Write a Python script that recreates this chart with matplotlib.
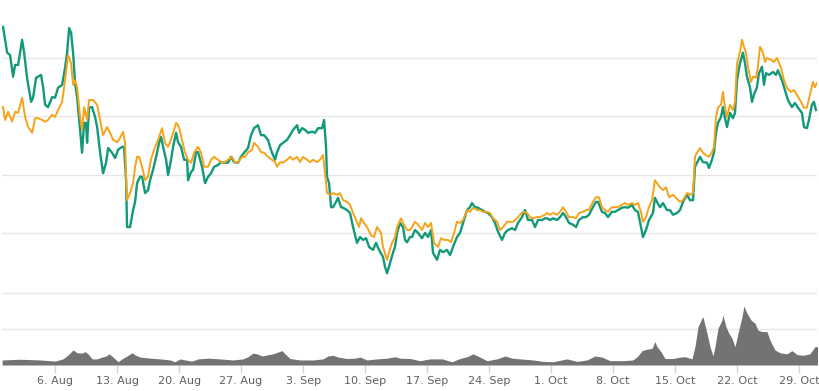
import pandas as pd
import matplotlib
matplotlib.use("Agg")
import matplotlib.pyplot as plt
import matplotlib.dates as mdates

START = pd.Timestamp("2018-07-31")

# green series: days since START, price level
green_days = [0.12, 0.58, 0.91, 1.25, 1.48, 1.82, 2.27, 2.50, 2.83, 3.29, 3.51, 3.85, 4.41, 4.64, 4.87, 5.20,
              5.66, 5.99, 6.33, 6.79, 7.12, 7.35, 7.58, 7.80, 8.03, 8.25, 8.48, 8.82, 9.04, 9.27, 9.49, 9.61,
              9.83, 10.17, 10.51, 10.74, 11.08, 11.41, 11.75, 11.98, 12.43, 12.77, 13.11, 13.56, 13.78, 14.01,
              14.12, 14.46, 14.80, 15.03, 15.25, 15.59, 15.82, 16.16, 16.49, 16.72, 17.06, 17.51, 17.74, 17.96,
              18.19, 18.53, 18.75, 19.09, 19.32, 19.66, 19.88, 20.22, 20.56, 20.90, 21.01, 21.35, 21.58, 21.91,
              22.14, 22.59, 22.93, 23.27, 23.61, 23.95, 24.40, 24.74, 25.07, 25.53, 25.86, 26.20, 26.66, 26.99,
              27.33, 27.78, 28.12, 28.46, 28.91, 29.25, 29.59, 30.04, 30.27, 30.49, 30.83, 31.06, 31.40, 31.74,
              32.19, 32.53, 32.86, 33.32, 33.54, 33.88, 34.22, 34.56, 35.01, 35.35, 35.69, 36.14, 36.37, 36.59,
              36.70, 36.93, 37.16, 37.38, 37.72, 37.95, 38.28, 38.51, 38.96, 39.30, 39.64, 39.87, 40.09, 40.43,
              40.77, 41.11, 41.45, 41.90, 42.23, 42.57, 43.02, 43.25, 43.48, 43.82, 44.15, 44.38, 44.61, 44.94,
              45.28, 45.51, 45.74, 46.07, 46.30, 46.64, 46.98, 47.43, 47.77, 48.11, 48.45, 48.67, 49.12, 49.46,
              49.80, 50.25, 50.59, 50.93, 51.38, 51.72, 52.06, 52.51, 52.85, 53.07, 53.41, 53.75, 54.20, 54.54,
              54.88, 55.33, 55.67, 56.01, 56.46, 56.80, 57.14, 57.59, 57.93, 58.27, 58.72, 59.06, 59.40, 59.85,
              60.19, 60.53, 60.98, 61.32, 61.54, 61.88, 62.22, 62.67, 63.01, 63.35, 63.69, 64.02, 64.48, 64.82,
              65.15, 65.61, 65.95, 66.28, 66.73, 67.07, 67.30, 67.75, 68.09, 68.43, 68.87, 69.21, 69.55, 70.00,
              70.34, 70.68, 71.14, 71.47, 71.81, 72.15, 72.38, 72.72, 73.06, 73.51, 73.73, 73.96, 74.30, 74.64,
              75.09, 75.43, 75.77, 76.22, 76.56, 76.90, 77.35, 77.69, 78.03, 78.25, 78.48, 78.82, 79.15, 79.61,
              79.83, 80.17, 80.40, 80.62, 80.85, 81.19, 81.41, 81.64, 81.87, 82.20, 82.54, 82.77, 83.00, 83.33,
              83.67, 83.90, 84.12, 84.46, 84.69, 84.91, 85.25, 85.48, 85.82, 86.04, 86.27, 86.61, 87.06, 87.40,
              87.62, 88.07, 88.41, 88.75, 89.20, 89.54, 89.88, 90.33, 90.56, 90.89, 91.12, 91.46, 91.68, 91.91]
green_price = [4.53, 4.09, 4.05, 3.68, 3.88, 3.88, 4.31, 4.09, 3.66, 3.25, 3.32, 3.66, 3.71, 3.50, 3.20, 3.16,
               3.33, 3.32, 3.49, 3.54, 3.83, 4.09, 4.51, 4.43, 4.09, 3.57, 3.33, 2.77, 2.38, 2.89, 2.89, 2.55,
               3.15, 3.16, 2.99, 2.82, 2.38, 2.03, 2.21, 2.46, 2.38, 2.29, 2.43, 2.48, 2.48, 1.91,
               1.11, 1.11, 1.40, 1.54, 1.86, 1.97, 1.97, 1.69, 1.74, 1.91, 2.09, 2.38, 2.55, 2.65,
               2.48, 2.26, 2.00, 2.26, 2.48, 2.72, 2.56, 2.48, 2.26, 2.26, 1.91, 2.05, 2.09, 2.39,
               2.39, 2.14, 1.86, 1.97, 2.03, 2.14, 2.17, 2.22, 2.21, 2.21, 2.31, 2.22, 2.21, 2.31,
               2.38, 2.46, 2.68, 2.80, 2.85, 2.68, 2.68, 2.60, 2.48, 2.38, 2.26, 2.39, 2.51, 2.55,
               2.60, 2.68, 2.77, 2.85, 2.72, 2.80, 2.77, 2.72, 2.74, 2.72, 2.80, 2.80, 2.94, 2.48,
               1.97, 1.86, 1.45, 1.45, 1.54, 1.61, 1.45, 1.44, 1.40, 1.35, 1.11, 0.97, 0.84, 0.94,
               0.89, 0.92, 0.77, 0.72, 0.84, 0.72, 0.60, 0.43, 0.32, 0.50, 0.67, 0.77, 1.01, 1.18,
               1.11, 0.89, 0.85, 0.94, 0.94, 1.06, 1.01, 0.92, 1.01, 0.94, 1.06, 0.67, 0.55, 0.72,
               0.68, 0.72, 0.63, 0.77, 0.94, 1.01, 1.18, 1.40, 1.45, 1.52, 1.45, 1.44, 1.40, 1.37,
               1.35, 1.28, 1.18, 1.03, 0.89, 1.01, 1.06, 1.09, 1.06, 1.18, 1.28, 1.40, 1.23, 1.23,
               1.11, 1.23, 1.23, 1.26, 1.26, 1.23, 1.26, 1.23, 1.28, 1.35, 1.28, 1.18, 1.15, 1.11,
               1.23, 1.28, 1.28, 1.32, 1.45, 1.54, 1.54, 1.37, 1.35, 1.28, 1.37, 1.37, 1.40, 1.44,
               1.45, 1.44, 1.49, 1.40, 1.37, 1.11, 0.94, 1.06, 1.23, 1.35, 1.61, 1.54, 1.45, 1.52,
               1.40, 1.40, 1.32, 1.35, 1.40, 1.54, 1.66, 1.57, 1.57, 2.14, 2.21, 2.31, 2.22, 2.21,
               2.12, 2.26, 2.39, 2.72, 2.89, 2.99, 3.16, 2.97, 2.82, 3.06, 2.97, 3.06, 3.62, 3.91,
               4.09, 3.91, 3.68, 3.50, 3.25, 3.37, 3.50, 3.74, 3.85, 3.54, 3.74, 3.71, 3.76, 3.71,
               3.79, 3.62, 3.45, 3.28, 3.16, 3.23, 3.15, 3.06, 2.82, 2.80, 2.94, 3.20, 3.25, 3.11]

# orange series
orange_days = [0.12, 0.35, 0.69, 1.14, 1.48, 1.82, 2.27, 2.61, 2.95, 3.40, 3.74, 4.08, 4.53, 4.87, 5.20, 5.66,
               5.99, 6.33, 6.79, 7.12, 7.46, 7.80, 8.03, 8.25, 8.48, 8.82, 9.04, 9.27, 9.61, 9.83, 10.28, 10.74,
               11.08, 11.41, 11.86, 12.20, 12.55, 13.00, 13.33, 13.67, 13.90, 14.01, 14.12, 14.46, 14.80, 15.03,
               15.25, 15.48, 15.82, 16.16, 16.49, 16.82, 17.17, 17.62, 18.07, 18.40, 18.75, 19.19, 19.66, 19.98,
               20.33, 20.67, 21.01, 21.35, 21.69, 22.14, 22.48, 22.82, 23.27, 23.61, 23.95, 24.40, 24.74, 25.07,
               25.53, 25.98, 26.32, 26.66, 27.11, 27.45, 27.78, 28.24, 28.46, 28.91, 29.25, 29.59, 30.04, 30.49,
               30.83, 31.06, 31.40, 31.74, 32.19, 32.53, 32.86, 33.32, 33.66, 33.99, 34.45, 34.78, 35.12, 35.58,
               35.92, 36.25, 36.48, 36.70, 37.04, 37.38, 37.83, 38.17, 38.51, 38.96, 39.30, 39.64, 39.98, 40.32,
               40.54, 40.88, 41.22, 41.67, 42.01, 42.35, 42.80, 43.02, 43.48, 43.70, 44.04, 44.38, 44.61, 45.06,
               45.28, 45.74, 46.07, 46.30, 46.64, 46.98, 47.43, 47.77, 48.11, 48.45, 48.79, 49.24, 49.58, 49.92,
               50.37, 50.71, 51.05, 51.38, 51.72, 52.06, 52.51, 52.85, 53.19, 53.64, 53.98, 54.32, 54.77, 55.11,
               55.45, 55.90, 56.24, 56.58, 57.03, 57.37, 57.71, 58.16, 58.50, 58.84, 59.29, 59.62, 59.96, 60.42,
               60.75, 61.32, 61.54, 61.88, 62.22, 62.67, 63.01, 63.35, 63.69, 64.02, 64.48, 64.82, 65.15, 65.61,
               65.95, 66.28, 66.73, 67.07, 67.41, 67.75, 68.09, 68.43, 68.87, 69.21, 69.55, 70.00, 70.34, 70.68,
               71.14, 71.47, 71.81, 72.15, 72.38, 72.72, 73.06, 73.40, 73.73, 73.96, 74.30, 74.64, 74.98, 75.32,
               75.77, 76.11, 76.56, 76.90, 77.35, 77.69, 78.03, 78.25, 78.48, 78.82, 79.15, 79.49, 79.83, 80.17,
               80.40, 80.62, 80.85, 81.19, 81.41, 81.64, 81.87, 82.20, 82.54, 82.77, 83.00, 83.33, 83.56, 83.78,
               84.01, 84.24, 84.58, 84.80, 85.14, 85.36, 85.59, 85.93, 86.16, 86.38, 86.83, 87.17, 87.51, 87.96,
               88.30, 88.64, 89.09, 89.43, 89.77, 90.22, 90.56, 90.89, 91.23, 91.57, 91.80, 92.02]
orange_price = [3.16, 2.94, 3.08, 2.91, 3.08, 3.06, 3.32, 2.99, 2.82, 2.72, 2.97, 2.97, 2.94, 2.91, 2.94, 3.03,
                2.99, 3.11, 3.25, 3.62, 4.05, 3.91, 3.54, 3.62, 3.50, 2.99, 2.77, 3.16, 2.94, 3.28, 3.28, 3.20,
                2.94, 2.68, 2.82, 2.72, 2.60, 2.56, 2.63, 2.74, 2.55, 1.97, 1.57, 1.69, 1.86, 2.14,
                2.31, 2.31, 2.14, 1.91, 1.97, 2.26, 2.43, 2.60, 2.80, 2.55, 2.48, 2.65, 2.89, 2.82,
                2.60, 2.38, 2.26, 2.21, 2.38, 2.48, 2.38, 2.14, 2.14, 2.26, 2.31, 2.26, 2.22, 2.21,
                2.26, 2.31, 2.21, 2.22, 2.31, 2.31, 2.39, 2.43, 2.55, 2.48, 2.39, 2.38, 2.31, 2.26,
                2.22, 2.14, 2.22, 2.21, 2.26, 2.31, 2.26, 2.31, 2.22, 2.31, 2.26, 2.22, 2.26, 2.22,
                2.26, 2.34, 2.03, 1.69, 1.66, 1.69, 1.66, 1.69, 1.57, 1.54, 1.49, 1.35, 1.23, 1.11,
                1.26, 1.18, 1.11, 0.97, 0.94, 1.11, 1.01, 0.77, 0.55, 0.67, 0.84, 0.94, 1.11, 1.26,
                1.18, 1.06, 1.06, 1.11, 1.20, 1.15, 1.06, 1.18, 1.11, 1.18, 0.84, 0.77, 0.92, 0.89,
                0.89, 0.85, 1.01, 1.20, 1.18, 1.23, 1.40, 1.37, 1.44, 1.40, 1.40, 1.37, 1.37, 1.35,
                1.26, 1.20, 1.06, 1.11, 1.20, 1.20, 1.20, 1.26, 1.32, 1.37, 1.35, 1.28, 1.26, 1.28,
                1.28, 1.32, 1.35, 1.32, 1.35, 1.32, 1.37, 1.45, 1.37, 1.28, 1.28, 1.26, 1.35, 1.37,
                1.40, 1.40, 1.54, 1.62, 1.62, 1.45, 1.40, 1.37, 1.45, 1.45, 1.45, 1.49, 1.52, 1.49,
                1.52, 1.49, 1.52, 1.37, 1.20, 1.28, 1.45, 1.57, 1.91, 1.86, 1.79, 1.74, 1.79, 1.62,
                1.66, 1.61, 1.54, 1.57, 1.69, 1.66, 1.69, 2.31, 2.38, 2.46, 2.38, 2.34, 2.31, 2.39,
                2.48, 2.99, 3.15, 3.20, 3.42, 3.16, 2.99, 3.20, 3.11, 3.25, 3.91, 4.10, 4.31, 4.19,
                4.09, 3.85, 3.59, 3.68, 3.66, 3.85, 4.19, 4.09, 3.93, 4.00, 3.97, 3.93, 4.00, 3.83,
                3.62, 3.49, 3.42, 3.45, 3.37, 3.25, 3.15, 3.15, 3.37, 3.59, 3.50, 3.57]

# volume
vol_days = [0.01, 2.04, 4.30, 6.00, 6.90, 7.46, 8.03, 8.48, 9.04, 9.38, 9.72, 10.17, 10.74, 11.30, 11.75, 12.09,
            12.54, 13.11, 13.56, 14.12, 14.69, 15.03, 15.59, 16.72, 17.85, 18.98, 19.54, 20.11, 20.67, 21.46,
            22.14, 23.27, 24.62, 26.09, 27.22, 27.78, 28.35, 28.80, 29.37, 29.93, 30.61, 31.17, 31.62, 31.96,
            32.53, 33.66, 35.12, 36.25, 36.81, 37.38, 37.95, 38.96, 39.86, 40.43, 41.22, 42.35, 43.48, 44.38,
            44.94, 46.07, 47.20, 48.33, 49.69, 50.82, 51.72, 52.51, 53.19, 53.98, 54.77, 55.90, 56.80, 57.59,
            58.50, 59.96, 61.09, 62.22, 63.80, 64.93, 66.06, 66.96, 67.75, 68.65, 70.12, 71.25, 71.81, 72.27,
            72.83, 73.40, 73.73, 73.96, 74.41, 74.86, 75.77, 76.56, 77.12, 77.91, 78.25, 78.59, 79.04, 79.15,
            79.61, 79.95, 80.28, 80.51, 80.85, 81.30, 81.41, 81.75, 82.09, 82.43, 82.77, 83.11, 83.56, 83.78,
            84.12, 84.58, 85.03, 85.36, 85.82, 86.38, 86.72, 87.28, 87.85, 88.64, 89.20, 89.77, 90.44, 91.23,
            91.80, 92.14]
volume = [0.14, 0.16, 0.14, 0.11, 0.17, 0.28, 0.42, 0.34, 0.33, 0.37, 0.31, 0.17, 0.17, 0.22, 0.25, 0.31,
          0.22, 0.09, 0.17, 0.25, 0.34, 0.28, 0.22, 0.19, 0.17, 0.14, 0.09, 0.17, 0.14, 0.11,
          0.17, 0.19, 0.17, 0.14, 0.17, 0.23, 0.33, 0.31, 0.25, 0.28, 0.31, 0.36, 0.40, 0.31,
          0.18, 0.14, 0.14, 0.17, 0.25, 0.27, 0.22, 0.18, 0.19, 0.22, 0.14, 0.17, 0.19, 0.23,
          0.19, 0.18, 0.12, 0.17, 0.17, 0.09, 0.18, 0.23, 0.31, 0.22, 0.12, 0.17, 0.25, 0.19,
          0.17, 0.14, 0.10, 0.09, 0.17, 0.10, 0.14, 0.25, 0.22, 0.12, 0.12, 0.14, 0.25, 0.40,
          0.44, 0.46, 0.65, 0.51, 0.37, 0.18, 0.18, 0.22, 0.23, 0.17, 0.51, 1.06, 1.30, 1.34,
          0.88, 0.51, 0.25, 0.51, 1.02, 1.25, 1.39, 1.06, 0.88, 0.74, 0.51, 0.88, 1.34, 1.64,
          1.44, 1.25, 1.16, 0.97, 0.93, 0.93, 0.69, 0.42, 0.34, 0.31, 0.40, 0.29, 0.27, 0.31,
          0.51, 0.51]

GREEN = "#12997a"
ORANGE = "#f5a318"
GRID = "#e6e6e6"

def to_dates(days):
  return START + pd.to_timedelta(days, unit="D")

fig = plt.figure(figsize=(8.2, 3.91), dpi=100)
left, width = 2 / 820, 815 / 820
ax = fig.add_axes([left, 99 / 391, width, 292 / 391])
axv = fig.add_axes([left, 26 / 391, width, 73 / 391], sharex=ax)

ax.plot(to_dates(green_days), green_price, color=GREEN, lw=1.7, solid_joinstyle="round")
ax.plot(to_dates(orange_days), orange_price, color=ORANGE, lw=1.4, solid_joinstyle="round")
ax.set_ylim(0, 4.99)
ax.set_yticks([1, 2, 3, 4])
ax.grid(axis="y", color=GRID, lw=1)
ax.tick_params(left=False, labelleft=False, bottom=False, labelbottom=False)

axv.fill_between(to_dates(vol_days), volume, color="#737373", lw=0)
axv.set_ylim(0, 2.03)
axv.set_yticks([1, 2])
axv.grid(axis="y", color=GRID, lw=1)
axv.tick_params(left=False, labelleft=False)

for a in (ax, axv):
  a.set_axisbelow(True)
  for s in a.spines.values():
    s.set_visible(False)

axv.set_xlim(START, START + pd.Timedelta(days=92.03))
axv.xaxis.set_major_locator(mdates.WeekdayLocator(byweekday=mdates.MO))
axv.xaxis.set_major_formatter(mdates.DateFormatter("%-d. %b"))
axv.tick_params(axis="x", length=6, width=1, color="#ccd6eb", labelsize=8, labelcolor="#606060", pad=2)

fig.savefig("out.png", dpi=100)
